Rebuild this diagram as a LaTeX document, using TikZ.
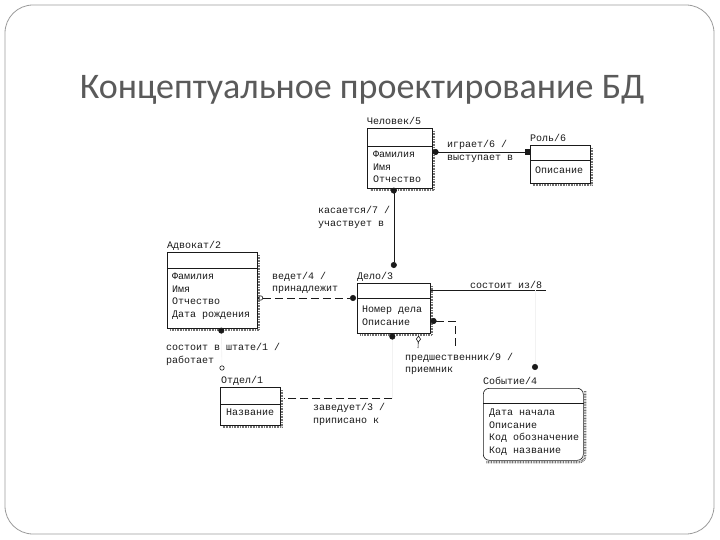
\documentclass[tikz,border=0pt]{standalone}
\usepackage{fontspec}
\newfontfamily\erfont{Liberation Mono}
\newfontfamily\titlefont{Carlito}
\usetikzlibrary{arrows.meta}
\definecolor{ink}{HTML}{1A1A1A}
\definecolor{slate}{HTML}{5A5A5A}
\definecolor{frame}{HTML}{9C9C9C}
\tikzset{erdot/.tip={Circle[length=6pt,color=ink]},
  erring/.tip={Circle[open,length=5pt,color=ink]}}

\begin{document}
\begin{tikzpicture}[x=1pt,y=-1pt,font=\erfont\fontsize{10}{12.5}\selectfont,text=ink,>=Latex,
  ent/.style={draw=ink,line width=.6pt,anchor=north west,inner sep=0pt},
  lbl/.style={anchor=base west,inner sep=0pt},
  attr/.style={anchor=north west,align=left,inner sep=0pt},
  rlbl/.style={anchor=west,align=left,inner sep=0pt},
  rel/.style={draw=ink,line width=.6pt},
  optrel/.style={rel,dash pattern=on 8pt off 4pt},
  faint/.style={draw=black!5},
  hatch/.style={draw=black!55,line width=2.5pt,dash pattern=on .8pt off .8pt}]
  \useasboundingbox (0,0) rectangle (720,540);
  \fill[white] (0,0) rectangle (720,540);
  \draw[frame,line width=.8pt,rounded corners=28pt] (5,5) rectangle (714,534);
  \node[font=\titlefont\fontsize{36}{40}\selectfont,text=slate] (title) at (362,90) {Концептуальное проектирование БД};

  % entities
  \node[ent,minimum width=65pt,minimum height=60pt] (chel) at (367,128) {};
  \node[ent,minimum width=60pt,minimum height=38pt] (rol) at (530,145) {};
  \node[ent,minimum width=90pt,minimum height=76pt] (adv) at (167,252) {};
  \node[ent,minimum width=73pt,minimum height=50pt] (delo) at (357,283) {};
  \node[ent,minimum width=60pt,minimum height=38pt] (otd) at (220,387) {};
  \node[ent,rounded corners=6pt,minimum width=100pt,minimum height=72pt] (sob) at (483,388) {};
  \foreach \n in {chel,rol,adv,delo,otd}
    \draw[hatch] ([xshift=1.5pt,yshift=-3pt]\n.north east) -- ([xshift=1.5pt,yshift=-1.5pt]\n.south east) -- ([xshift=3pt,yshift=-1.5pt]\n.south west);
  \draw[hatch,rounded corners=6pt] ([xshift=1.5pt,yshift=-3pt]sob.north east) -- ([xshift=1.5pt,yshift=-1.5pt]sob.south east) -- ([xshift=3pt,yshift=-1.5pt]sob.south west);
  \foreach \n/\h in {chel/18,rol/15,adv/16,delo/15,otd/17,sob/15}
    \draw[rel] ([yshift=-\h pt]\n.north west) -- ([yshift=-\h pt]\n.north east);

  \node[lbl] (chellbl) at ([yshift=3.5pt]chel.north west) {Человек/5};
  \node[lbl] (rollbl) at ([yshift=3.5pt]rol.north west) {Роль/6};
  \node[lbl] (advlbl) at ([yshift=3.5pt]adv.north west) {Адвокат/2};
  \node[lbl] (delolbl) at ([yshift=3.5pt]delo.north west) {Дело/3};
  \node[lbl] (otdlbl) at ([xshift=1pt,yshift=3.5pt]otd.north west) {Отдел/1};
  \node[lbl] (soblbl) at ([yshift=3.5pt]sob.north west) {Событие/4};

  \node[attr] (chelatt) at ([xshift=6pt,yshift=-23pt]chel.north west) {Фамилия\\Имя\\Отчество};
  \node[attr] (rolatt) at ([xshift=5pt,yshift=-22pt]rol.north west) {Описание};
  \node[attr] (advatt) at ([xshift=5pt,yshift=-21pt]adv.north west) {Фамилия\\Имя\\Отчество\\Дата рождения};
  \node[attr] (deloatt) at ([xshift=5pt,yshift=-23pt]delo.north west) {Номер дела\\Описание};
  \node[attr] (otdatt) at ([xshift=6pt,yshift=-22pt]otd.north west) {Название};
  \node[attr] (sobatt) at ([xshift=6pt,yshift=-21pt]sob.north west) {Дата начала\\Описание\\Код обозначение\\Код название};

  % relationships
  \draw[rel,{erdot}-{Square[length=6pt]},shorten <=-3pt,shorten >=-3pt] ([xshift=3pt,yshift=-24pt]chel.north east) -- ([xshift=-2pt,yshift=-7pt]rol.north west);
  \node[rlbl] (lplay) at (447,151.5) {играет/6 /\\выступает в};

  \coordinate (chelfoot) at ([yshift=-2pt]chel.south);
  \coordinate (delotop) at ([yshift=18pt]delo.north);
  \draw[rel,{erdot}-{erdot},shorten <=-3pt,shorten >=-3pt] (chelfoot -| delotop) -- (delotop);
  \node[rlbl] (lconcern) at (318,217.5) {касается/7 /\\участвует в};

  \draw[optrel,{erring}-{erdot},shorten <=-2.5pt,shorten >=-3pt] ([xshift=3pt,yshift=-46pt]adv.north east) -- ([xshift=-4pt,yshift=-15pt]delo.north west);
  \node[rlbl] (llead) at (272,283) {ведет/4 /\\принадлежит};

  \coordinate (compend) at (546,290);
  \coordinate (compbend) at (535,290);
  \coordinate (sobtop) at ([xshift=52pt,yshift=21pt]sob.north west);
  \draw[rel] ([yshift=-7pt]delo.north east) -- (compend);
  \draw[rel,faint,-{erdot},shorten >=-3pt] (compbend) -- (sobtop);
  \node[rlbl] (lconsist) at (470,285) {состоит из/8};

  \coordinate (predA) at (455,348);
  \coordinate (predB) at (418,348);
  \draw[optrel,{erdot}-,shorten <=-3pt] ([xshift=3pt,yshift=-38pt]delo.north east) -| (predA);
  \draw[optrel,{Diamond[open,length=7pt,width=5pt,color=ink]}-] ([xshift=-12pt,yshift=-2pt]delo.south east) -- (predB);
  \node[rlbl] (lpred) at (405,364) {предшественник/9 /\\приемник};

  \coordinate (delofoot) at ([xshift=-1.5pt,yshift=-3pt]delo.south);
  \coordinate (otdside) at ([xshift=3pt,yshift=-11pt]otd.north east);
  \draw[rel,faint,{erdot}-,shorten <=-3pt] (delofoot) -- (delofoot |- otdside);
  \draw[optrel] (delofoot |- otdside) -- (otdside);
  \node[rlbl] (lassign) at (313,414.5) {заведует/3 /\\приписано к};

  \draw[rel,faint,{erdot}-{erring},shorten <=-3pt,shorten >=-2.5pt] ([xshift=9pt,yshift=-2pt]adv.south) -- ([xshift=2pt,yshift=19pt]otd.north west);
  \node[rlbl] (lstaff) at (166,354.5) {состоит в штате/1 /\\работает};
\end{tikzpicture}
\end{document}
